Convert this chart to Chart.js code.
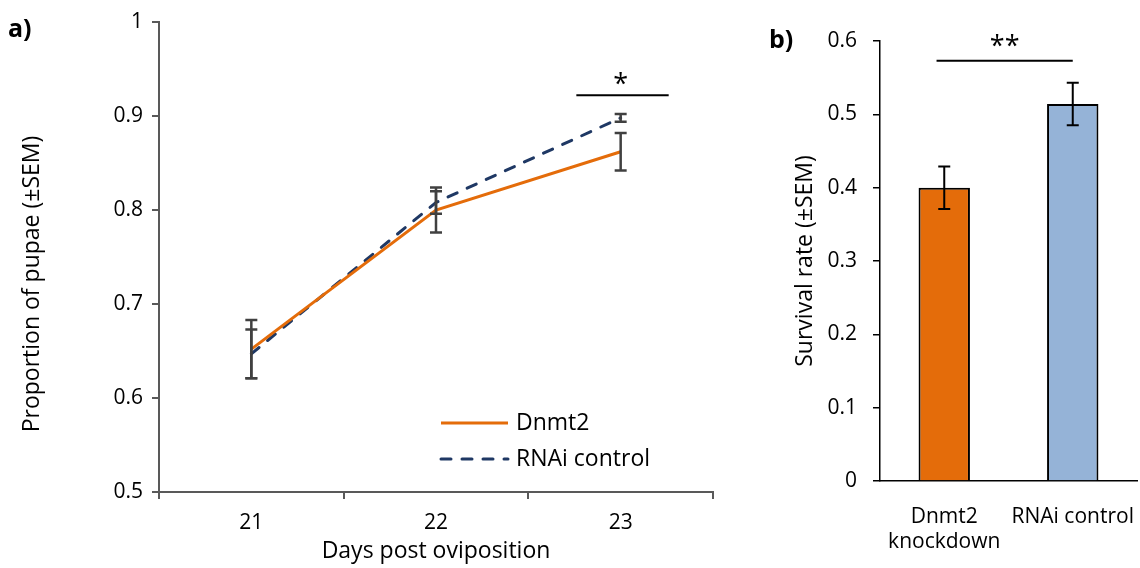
<!DOCTYPE html>
<html><head><meta charset="utf-8">
<script src="https://cdn.jsdelivr.net/npm/chart.js@4.4.1/dist/chart.umd.min.js"></script>
<style>
html,body{margin:0;padding:0;background:#fff;}
#wrap{position:relative;width:1140px;height:568px;background:#fff;}
#ca{position:absolute;left:0;top:0;}
#cb{position:absolute;left:730px;top:0;}
</style></head><body>
<div id="wrap"><canvas id="ca" width="730" height="568"></canvas><canvas id="cb" width="410" height="568"></canvas></div>
<script>
// ---- data ----
const days = ['21', '22', '23'];
const dnmt2Mean = [0.652, 0.800, 0.862];
const dnmt2Sem = [0.031, 0.024, 0.020];
const rnaiMean = [0.647, 0.808, 0.898];
const rnaiSem = [0.026, 0.012, 0.004];
const yTicksA = [0.5, 0.6, 0.7, 0.8, 0.9, 1];

const groups = [['Dnmt2', 'knockdown'], 'RNAi control'];
const survival = [0.400, 0.514];
const survivalSem = [0.029, 0.029];
const yTicksB = [0, 0.1, 0.2, 0.3, 0.4, 0.5, 0.6];

const F = '"Open Sans", Lato, sans-serif';
const TICK = 21, TITLE = 23;
const ORANGE = '#E46C0A';
const NAVY = '#1F3864';
const LIGHTBLUE = '#95B3D7';

// ---- plugins ----
const errorBars = {
  id: 'errorBars',
  afterDatasetsDraw(chart, args, o) {
    const ctx = chart.ctx, y = chart.scales.y;
    chart.data.datasets.forEach((ds, i) => {
      if (!ds.sem) return;
      const meta = chart.getDatasetMeta(i);
      meta.data.forEach((el, j) => {
        const x = el.x, m = ds.data[j];
        const yt = y.getPixelForValue(m + ds.sem[j]);
        const yb = y.getPixelForValue(m - ds.sem[j]);
        ctx.save();
        ctx.strokeStyle = o.color; ctx.lineWidth = o.width;
        ctx.beginPath();
        ctx.moveTo(x, yt); ctx.lineTo(x, yb);
        ctx.moveTo(x - o.cap, yt); ctx.lineTo(x + o.cap, yt);
        ctx.moveTo(x - o.cap, yb); ctx.lineTo(x + o.cap, yb);
        ctx.stroke();
        ctx.restore();
      });
    });
  }
};

const sig = {
  id: 'sig',
  afterDraw(chart, args, o) {
    const ctx = chart.ctx, x = chart.scales.x, y = chart.scales.y;
    const x1 = x.getPixelForValue(o.from), x2 = x.getPixelForValue(o.to);
    const yy = y.getPixelForValue(o.value);
    ctx.save();
    ctx.strokeStyle = '#000'; ctx.lineWidth = 2;
    ctx.beginPath(); ctx.moveTo(x1, yy); ctx.lineTo(x2, yy); ctx.stroke();
    ctx.fillStyle = '#000';
    ctx.font = '27px ' + F;
    ctx.textAlign = 'center'; ctx.textBaseline = 'alphabetic';
    ctx.fillText(o.text, x.getPixelForValue(o.textAt), yy + o.textDy);
    ctx.restore();
  }
};

const extrasA = {
  id: 'extrasA',
  afterDraw(chart) {
    const ctx = chart.ctx;
    ctx.save();
    // panel label
    ctx.fillStyle = '#000';
    ctx.font = 'bold 25px ' + F;
    ctx.textAlign = 'left'; ctx.textBaseline = 'middle';
    ctx.fillText('a)', 8, 30);
    // y title
    ctx.font = TITLE + 'px ' + F;
    ctx.translate(32, 284);
    ctx.rotate(-Math.PI / 2);
    ctx.textAlign = 'center';
    ctx.fillText('Proportion of pupae (\u00B1SEM)', 0, 0);
    ctx.restore();
    // legend
    const ds = chart.data.datasets;
    const rows = [423, 459];
    ds.forEach((d, i) => {
      ctx.save();
      ctx.strokeStyle = d.borderColor; ctx.lineWidth = d.borderWidth;
      ctx.lineCap = d.borderCapStyle || 'butt';
      ctx.setLineDash(d.borderDash || []);
      ctx.beginPath(); ctx.moveTo(441, rows[i]); ctx.lineTo(508, rows[i]); ctx.stroke();
      ctx.setLineDash([]);
      ctx.fillStyle = '#000'; ctx.font = TITLE + 'px ' + F;
      ctx.textAlign = 'left'; ctx.textBaseline = 'middle';
      ctx.fillText(d.label, 516, rows[i]);
      ctx.restore();
    });
  }
};

const extrasB = {
  id: 'extrasB',
  afterDraw(chart) {
    const ctx = chart.ctx;
    ctx.save();
    ctx.fillStyle = '#000';
    ctx.font = 'bold 25px ' + F;
    ctx.textAlign = 'left'; ctx.textBaseline = 'middle';
    ctx.fillText('b)', 39, 41);
    ctx.restore();
  }
};

// ---- chart a ----
new Chart(document.getElementById('ca'), {
  type: 'line',
  data: {
    labels: days,
    datasets: [
      { label: 'Dnmt2', data: dnmt2Mean, sem: dnmt2Sem, borderColor: ORANGE, borderWidth: 3,
        pointRadius: 0, tension: 0, fill: false, borderCapStyle: 'butt' },
      { label: 'RNAi control', data: rnaiMean, sem: rnaiSem, borderColor: NAVY, borderWidth: 3,
        borderDash: [10, 11], borderCapStyle: 'round', pointRadius: 0, tension: 0, fill: false }
    ]
  },
  options: {
    responsive: false, animation: false, events: [],
    layout: { padding: { top: 22, right: 17, left: 0, bottom: 0 } },
    plugins: {
      legend: { display: false }, tooltip: { enabled: false },
      errorBars: { color: '#404040', width: 2.5, cap: 6 },
      sig: { from: 1.76, to: 2.26, value: 0.922, text: '*', textAt: 2, textDy: -2 }
    },
    scales: {
      x: {
        type: 'category', offset: true,
        grid: { display: true, offset: true, drawOnChartArea: false, drawTicks: true, tickLength: 7, color: '#595959', lineWidth: 2 },
        border: { display: true, color: '#595959', width: 2 },
        ticks: { color: '#000', font: { family: F, size: TICK }, padding: 11, maxRotation: 0 },
        title: { display: true, text: 'Days post oviposition', color: '#000', font: { family: F, size: TITLE }, padding: { top: 0, bottom: 3 } },
        afterFit(s) { s.height = 76; s.paddingLeft = 0; s.paddingRight = 0; }
      },
      y: {
        min: 0.5, max: 1,
        afterBuildTicks(s) { s.ticks = yTicksA.map(v => ({ value: v })); },
        ticks: { color: '#000', font: { family: F, size: TICK }, padding: 9,
          callback: v => (v === 1 ? '1' : v.toFixed(1)) },
        grid: { display: true, drawOnChartArea: false, drawTicks: true, tickLength: 7, color: '#595959', lineWidth: 2 },
        border: { display: true, color: '#595959', width: 2 },
        afterFit(s) { s.width = 159; }
      }
    }
  },
  plugins: [errorBars, sig, extrasA]
});

// ---- chart b ----
new Chart(document.getElementById('cb'), {
  type: 'bar',
  data: {
    labels: groups,
    datasets: [
      { label: 'Survival rate', data: survival, sem: survivalSem,
        backgroundColor: [ORANGE, LIGHTBLUE], borderColor: '#000', borderWidth: 2,
        categoryPercentage: 1, barPercentage: 0.4 }
    ]
  },
  options: {
    responsive: false, animation: false, events: [],
    layout: { padding: { top: 41, right: 3, left: 0, bottom: 0 } },
    plugins: {
      legend: { display: false }, tooltip: { enabled: false },
      errorBars: { color: '#000', width: 2, cap: 6 },
      sig: { from: -0.06, to: 1, value: 0.573, text: '**', textAt: 0.47, textDy: -6 }
    },
    scales: {
      x: {
        grid: { display: false, drawTicks: false },
        border: { display: true, color: '#000', width: 1.5 },
        ticks: { color: '#000', font: { family: F, size: TICK }, padding: 23, maxRotation: 0 },
        afterFit(s) { s.height = 87; s.paddingLeft = 0; s.paddingRight = 0; }
      },
      y: {
        min: 0, max: 0.6,
        afterBuildTicks(s) { s.ticks = yTicksB.map(v => ({ value: v })); },
        ticks: { color: '#000', font: { family: F, size: TICK }, padding: 16,
          callback: v => (v === 0 ? '0' : v.toFixed(1)) },
        grid: { display: true, drawOnChartArea: false, drawTicks: true, tickLength: 7, color: '#000', lineWidth: 1.5 },
        border: { display: true, color: '#000', width: 1.5 },
        title: { display: true, text: 'Survival rate (\u00B1SEM)', color: '#000', font: { family: F, size: TITLE }, padding: { top: 62, bottom: 0 } },
        afterFit(s) { s.width = 150; }
      }
    }
  },
  plugins: [errorBars, sig, extrasB]
});
</script>
</body></html>
